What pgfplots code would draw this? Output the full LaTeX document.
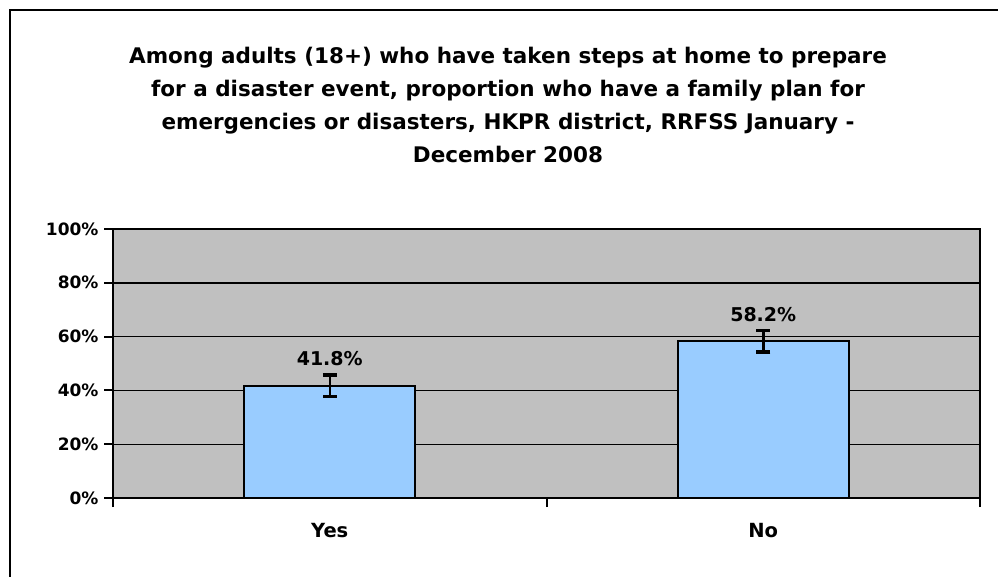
\documentclass[border=0pt]{standalone}
\usepackage{pgfplots}
\pgfplotsset{compat=1.18}
\usepackage{fontspec}
\setmainfont{DejaVu Sans}
\definecolor{plotbg}{HTML}{C0C0C0}
\definecolor{barblue}{HTML}{99CCFF}
\begin{document}
\begin{tikzpicture}[x=1pt,y=1pt]
\useasboundingbox (0,0) rectangle (998,-576);
\draw[line width=2pt] (10,-577) -- (10,-10) -- (999,-10);
\node[align=center, font=\bfseries\fontsize{21.5}{33}\selectfont] at (508,-105)
  {Among adults (18+) who have taken steps at home to prepare\\
   for a disaster event, proportion who have a family plan for\\
   emergencies or disasters, HKPR district, RRFSS January -\\
   December 2008};
\begin{axis}[
    at={(113pt,-498pt)}, anchor=south west,
    scale only axis, width=867pt, height=269pt,
    xmin=-0.5, xmax=1.5, ymin=0, ymax=100,
    /pgf/number format/assume math mode=true,
    axis background/.style={fill=plotbg},
    axis line style={line width=2pt},
    ytick={0,20,...,100},
    yticklabel={\pgfmathprintnumber{\tick}\%},
    ymajorgrids, grid style={black, line width=1.4pt},
    major tick style={black, line width=2pt},
    tick align=outside, major tick length=9pt,
    ytick pos=left,
    xtick={-0.5,0.5,1.5}, xticklabels={},
    xtick pos=bottom,
    extra x ticks={0,1}, extra x tick labels={Yes,No},
    extra x tick style={major tick length=0pt,
      xticklabel style={font=\bfseries\fontsize{19.5}{22}\selectfont, yshift=-22pt}},
    yticklabel style={font=\bfseries\fontsize{17}{20}\selectfont, xshift=-2pt},
    ybar, bar width=171pt,
    nodes near coords={\pgfmathprintnumber[fixed,precision=1,fixed zerofill]{\pgfplotspointmeta}\%},
    every node near coord/.append style={anchor=center, yshift=27pt,
      font=\bfseries\fontsize{19}{22}\selectfont},
  ]
\addplot[fill=barblue, draw=black, line width=2pt,
  error bars/.cd, y dir=both, y explicit,
  error bar style={line width=2.5pt, black},
  error mark options={rotate=90, mark size=7pt, line width=3.5pt, black}]
  coordinates {(0,41.8) +- (0,4.0) (1,58.2) +- (0,4.0)};
\end{axis}
\end{tikzpicture}
\end{document}
